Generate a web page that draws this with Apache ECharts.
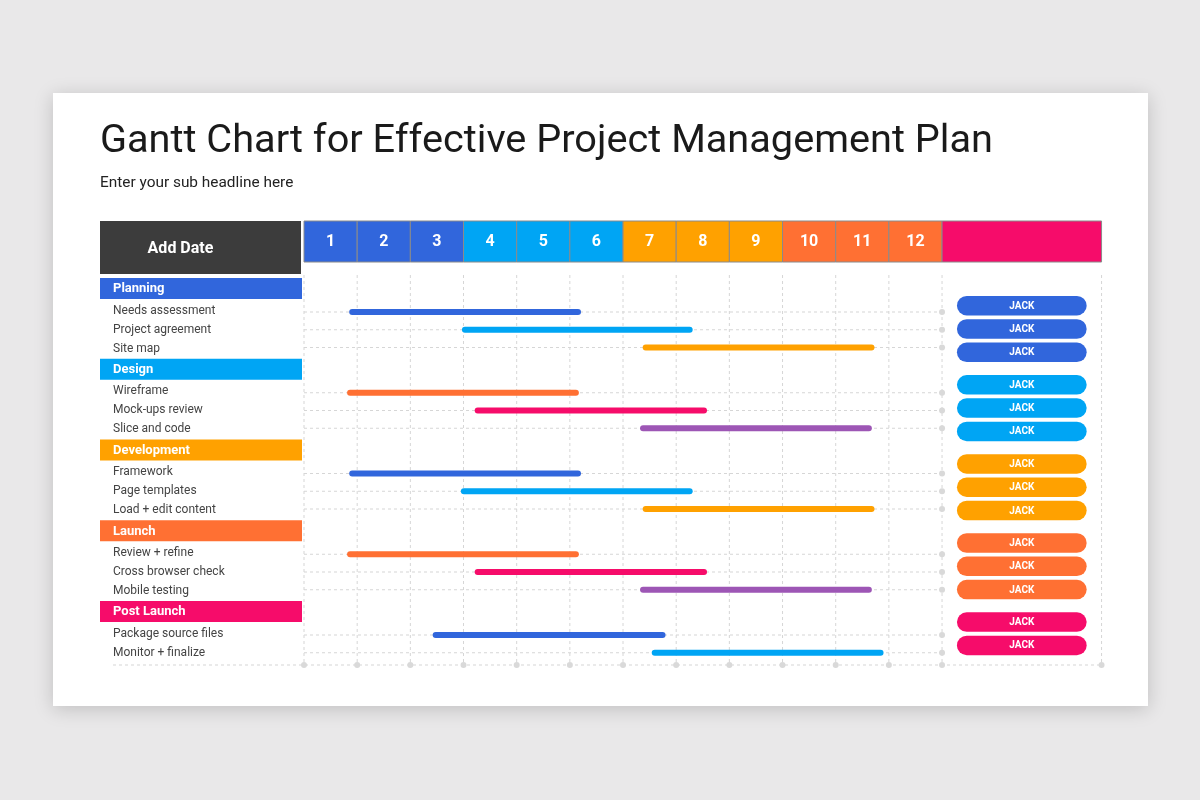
<!DOCTYPE html>
<html>
<head>
<meta charset="utf-8">
<title>Gantt Chart for Effective Project Management Plan</title>
<script src="https://cdn.jsdelivr.net/npm/echarts@6/dist/echarts.min.js"></script>
<style>
  html, body { margin: 0; padding: 0; background: #e9e8e9; }
  #chart { width: 1200px; height: 800px; }
</style>
</head>
<body>
<div id="chart"></div>
<script>
// ---- data ----
var months = ['1', '2', '3', '4', '5', '6', '7', '8', '9', '10', '11', '12'];
var monthColors = ['#3166dc', '#3166dc', '#3166dc', '#00a5f4', '#00a5f4', '#00a5f4',
                   '#ffa100', '#ffa100', '#ffa100', '#ff7033', '#ff7033', '#ff7033'];
var sections = ['Planning', 'Design', 'Development', 'Launch', 'Post Launch'];
var sectionColors = ['#3166dc', '#00a5f4', '#ffa100', '#ff7033', '#f60c6a'];
var tasks = ['Needs assessment', 'Project agreement', 'Site map',
             'Wireframe', 'Mock-ups review', 'Slice and code',
             'Framework', 'Page templates', 'Load + edit content',
             'Review + refine', 'Cross browser check', 'Mobile testing',
             'Package source files', 'Monitor + finalize'];
var taskSection = [0, 0, 0, 1, 1, 1, 2, 2, 2, 3, 3, 3, 4, 4];
var taskStart = [0.85, 2.97, 6.37, 0.81, 3.21, 6.32, 0.85, 2.95, 6.37, 0.81, 3.21, 6.32, 2.42, 6.54];
var taskEnd   = [5.21, 7.31, 10.73, 5.17, 7.58, 10.68, 5.21, 7.31, 10.73, 5.17, 7.58, 10.68, 6.80, 10.90];
var taskColors = ['#3166dc', '#00a5f4', '#ffa100', '#ff7033', '#f60c6a', '#9d56b5',
                  '#3166dc', '#00a5f4', '#ffa100', '#ff7033', '#f60c6a', '#9d56b5',
                  '#3166dc', '#00a5f4'];
var owners = ['JACK', 'JACK', 'JACK', 'JACK', 'JACK', 'JACK', 'JACK',
              'JACK', 'JACK', 'JACK', 'JACK', 'JACK', 'JACK', 'JACK'];
var headerLabel = 'Add Date';
var title = 'Gantt Chart for Effective Project Management Plan';
var subtitle = 'Enter your sub headline here';

// ---- layout ----
var GRID_LEFT = 304, GRID_TOP = 275, MONTH_W = 53.17, SECTION_H = 80.75;
var X_MAX = 15;                       // 12 months + owner column
var Y_MAX = 390 / SECTION_H;
var HEAD_TOP = 221, HEAD_H = 41;
var LABEL_X = 100, LABEL_W = 202, TEXT_X = 113;
var OWNER_X0 = 12.28, OWNER_X1 = 14.72;
var FONT = 'Roboto, sans-serif';
var LINE = '#d6d6d6';

// row positions (in section units) computed from the section index
var taskY = [];
var labelY = [];
var ownerY = [];
(function () {
  var count = {};
  taskSection.forEach(function (s) {
    var k = count[s] || 0;
    count[s] = k + 1;
    taskY.push(s + (37 + k * 17.75) / SECTION_H);
    labelY.push(s + (35.5 + k * 19) / SECTION_H);
    ownerY.push((30.7 + s * 79.1 + k * 23.3) / SECTION_H);
  });
})();
var sectionY = sections.map(function (s, i) { return i + 13.5 / SECTION_H; });
var gridValues = months.map(function (m, i) { return i; }).concat([months.length, X_MAX]);

var chart = echarts.init(document.getElementById('chart'));

function dashed(x1, y1, x2, y2) {
  return { type: 'line', shape: { x1: x1, y1: y1, x2: x2, y2: y2 },
           style: { stroke: LINE, lineWidth: 1, lineDash: [3, 3] } };
}
function dot(x, y) {
  return { type: 'circle', shape: { cx: x, cy: y, r: 3 }, style: { fill: '#d9d9d9' } };
}

var option = {
  animation: false,
  backgroundColor: 'transparent',
  graphic: [
    { type: 'rect', z: -10, shape: { x: 53, y: 93, width: 1095, height: 613 },
      style: { fill: '#ffffff', shadowBlur: 18, shadowColor: 'rgba(0,0,0,0.18)', shadowOffsetY: 3 } },
    { type: 'text', x: 100, y: 142,
      style: { text: title, fill: '#1a1a1a', fontSize: 39.7, fontFamily: FONT, verticalAlign: 'middle' } },
    { type: 'text', x: 100, y: 183,
      style: { text: subtitle, fill: '#222222', fontSize: 15.4, fontFamily: FONT, verticalAlign: 'middle' } }
  ],
  grid: { left: GRID_LEFT, top: GRID_TOP, width: MONTH_W * X_MAX, height: 390 },
  xAxis: { type: 'value', min: 0, max: X_MAX, show: false },
  yAxis: { type: 'value', min: 0, max: Y_MAX, inverse: true, show: false },
  series: [
    // grid: vertical lines, row lines, bottom line
    {
      type: 'custom', name: 'grid', z: 1,
      data: [0],
      renderItem: function (params, api) {
        var children = [];
        var bottom = api.coord([0, Y_MAX])[1];
        var top = api.coord([0, 0])[1];
        var xEnd = api.coord([months.length, 0])[0];
        gridValues.forEach(function (v) {
          var x = api.coord([v, 0])[0];
          children.push(dashed(x, top, x, bottom));
        });
        taskY.forEach(function (ty) {
          var y = api.coord([0, ty])[1];
          children.push(dashed(api.coord([0, ty])[0], y, xEnd, y));
          children.push(dot(xEnd, y));
        });
        children.push(dashed(TEXT_X, bottom, api.coord([X_MAX, 0])[0], bottom));
        gridValues.forEach(function (v) {
          children.push(dot(api.coord([v, 0])[0], bottom));
        });
        return { type: 'group', children: children };
      }
    },
    // header month cells
    {
      type: 'custom', name: 'months', z: 3,
      data: months.map(function (m, i) { return [i, i + 1]; }),
      renderItem: function (params, api) {
        var x0 = api.coord([api.value(0), 0])[0];
        var x1 = api.coord([api.value(1), 0])[0];
        return { type: 'group', children: [
          { type: 'rect', shape: { x: x0, y: HEAD_TOP, width: x1 - x0, height: HEAD_H },
            style: { fill: monthColors[params.dataIndex], stroke: '#8a8a8a', lineWidth: 1 } },
          { type: 'text', style: { text: months[params.dataIndex], x: (x0 + x1) / 2, y: HEAD_TOP + HEAD_H / 2,
            fill: '#ffffff', fontSize: 16, fontWeight: 'bold', fontFamily: FONT,
            align: 'center', verticalAlign: 'middle' } }
        ] };
      }
    },
    // header owner cell + "Add Date" box
    {
      type: 'custom', name: 'header', z: 3,
      data: [[months.length, X_MAX]],
      renderItem: function (params, api) {
        var x0 = api.coord([api.value(0), 0])[0];
        var x1 = api.coord([api.value(1), 0])[0];
        return { type: 'group', children: [
          { type: 'rect', shape: { x: x0, y: HEAD_TOP, width: x1 - x0, height: HEAD_H },
            style: { fill: sectionColors[4], stroke: '#8a8a8a', lineWidth: 1 } },
          { type: 'rect', shape: { x: LABEL_X, y: HEAD_TOP, width: LABEL_W - 1, height: 53 },
            style: { fill: '#3c3c3c' } },
          { type: 'text', style: { text: headerLabel, x: 180.5, y: HEAD_TOP + 28,
            fill: '#ffffff', fontSize: 16, fontWeight: 'bold', fontFamily: FONT,
            align: 'center', verticalAlign: 'middle' } }
        ] };
      }
    },
    // section header bars
    {
      type: 'custom', name: 'sections', z: 3,
      data: sectionY.map(function (y) { return [0, y]; }),
      renderItem: function (params, api) {
        var y = api.coord([0, api.value(1)])[1];
        return { type: 'group', children: [
          { type: 'rect', shape: { x: LABEL_X, y: y - 10.5, width: LABEL_W, height: 21 },
            style: { fill: sectionColors[params.dataIndex] } },
          { type: 'text', style: { text: sections[params.dataIndex], x: TEXT_X, y: y + 0.5,
            fill: '#ffffff', fontSize: 13, fontWeight: 'bold', fontFamily: FONT,
            verticalAlign: 'middle' } }
        ] };
      }
    },
    // task labels
    {
      type: 'custom', name: 'labels', z: 3,
      data: labelY.map(function (y) { return [0, y]; }),
      renderItem: function (params, api) {
        var y = api.coord([0, api.value(1)])[1];
        return { type: 'text', style: { text: tasks[params.dataIndex], x: TEXT_X, y: y,
          fill: '#444444', fontSize: 12, fontFamily: FONT, verticalAlign: 'middle' } };
      }
    },
    // task bars
    {
      type: 'custom', name: 'tasks', z: 4,
      encode: { x: [0, 1], y: 2 },
      data: tasks.map(function (t, i) { return [taskStart[i], taskEnd[i], taskY[i]]; }),
      renderItem: function (params, api) {
        var p0 = api.coord([api.value(0), api.value(2)]);
        var p1 = api.coord([api.value(1), api.value(2)]);
        return { type: 'rect', shape: { x: p0[0], y: p0[1] - 3, width: p1[0] - p0[0], height: 6, r: 3 },
          style: { fill: taskColors[params.dataIndex] } };
      }
    },
    // owner pills
    {
      type: 'custom', name: 'owners', z: 4,
      encode: { x: [0, 1], y: 2 },
      data: tasks.map(function (t, i) { return [OWNER_X0, OWNER_X1, ownerY[i]]; }),
      renderItem: function (params, api) {
        var p0 = api.coord([api.value(0), api.value(2)]);
        var p1 = api.coord([api.value(1), api.value(2)]);
        return { type: 'group', children: [
          { type: 'rect', shape: { x: p0[0], y: p0[1] - 9.75, width: p1[0] - p0[0], height: 19.5, r: 9.75 },
            style: { fill: sectionColors[taskSection[params.dataIndex]] } },
          { type: 'text', style: { text: owners[params.dataIndex], x: (p0[0] + p1[0]) / 2, y: p0[1] + 0.5,
            fill: '#ffffff', fontSize: 10, fontWeight: 'bold', fontFamily: FONT,
            align: 'center', verticalAlign: 'middle' } }
        ] };
      }
    }
  ]
};
chart.setOption(option);
</script>
</body>
</html>
